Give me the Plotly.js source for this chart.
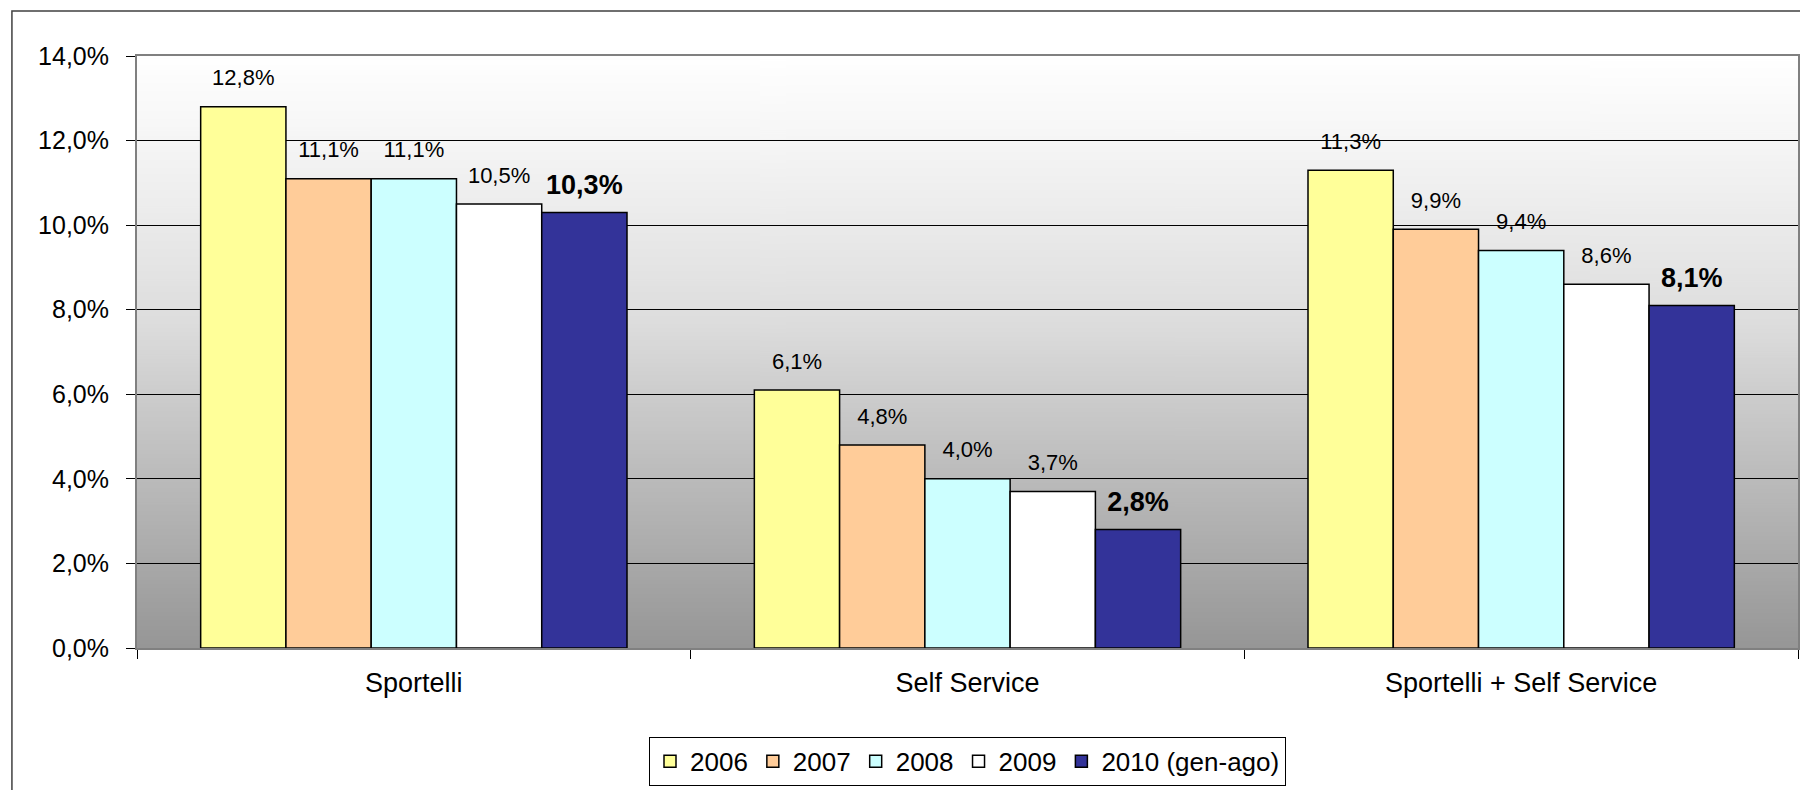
<!DOCTYPE html>
<html>
<head>
<meta charset="utf-8">
<script src="https://cdn.plot.ly/plotly-3.0.1.min.js"></script>
<style>
  html, body { margin: 0; padding: 0; background: #ffffff; }
  #chart { width: 1800px; height: 790px; }
</style>
</head>
<body>
<div id="chart"></div>
<script>
// Categories and yearly shares (percent)
const categories = ['Sportelli', 'Self Service', 'Sportelli + Self Service'];
const seriesNames = ['2006', '2007', '2008', '2009', '2010 (gen-ago)'];
const values2006 = [12.8, 6.1, 11.3];
const values2007 = [11.1, 4.8, 9.9];
const values2008 = [11.1, 4.0, 9.4];
const values2009 = [10.5, 3.7, 8.6];
const values2010 = [10.3, 2.8, 8.1];
const yTickValues = [0, 2, 4, 6, 8, 10, 12, 14];

const seriesValues = [values2006, values2007, values2008, values2009, values2010];
const seriesColors = ['#FFFF99', '#FFCC99', '#CCFFFF', '#FFFFFF', '#333399'];

const FONT = 'Liberation Sans, Arial, sans-serif';
const GAP = 0.23;

// Italian number style for labels: 12,8%
function pct(v) { return v.toFixed(1).replace('.', ',') + '%'; }

// Vertical grey gradient used as plot-area background
function gradientImage() {
  const c = document.createElement('canvas');
  c.width = 4; c.height = 600;
  const ctx = c.getContext('2d');
  const g = ctx.createLinearGradient(0, 0, 0, c.height);
  g.addColorStop(0.00, 'rgb(255,255,255)');
  g.addColorStop(0.15, 'rgb(245,245,245)');
  g.addColorStop(0.45, 'rgb(221,221,221)');
  g.addColorStop(0.60, 'rgb(201,201,201)');
  g.addColorStop(0.80, 'rgb(176,176,176)');
  g.addColorStop(1.00, 'rgb(150,150,150)');
  ctx.fillStyle = g;
  ctx.fillRect(0, 0, c.width, c.height);
  return c.toDataURL('image/png');
}

const traces = [];

// Bars
seriesValues.forEach((vals, i) => {
  traces.push({
    type: 'bar',
    name: seriesNames[i],
    x: categories,
    y: vals,
    marker: { color: seriesColors[i], line: { color: '#000000', width: 1.5 } },
    hoverinfo: 'skip'
  });
});

// Value labels above each bar (grouped the same way as the bars)
seriesValues.forEach((vals, i) => {
  const last = i === seriesValues.length - 1;
  traces.push({
    type: 'scatter',
    mode: 'markers+text',
    x: categories,
    y: vals,
    text: vals.map(pct),
    textposition: 'top center',
    textfont: { family: FONT, size: last ? 27 : 22, color: '#000000', weight: last ? 'bold' : 'normal' },
    marker: { size: last ? 17 : 24, opacity: 0 },
    showlegend: false,
    hoverinfo: 'skip'
  });
});

const layout = {
  width: 1800,
  height: 790,
  margin: { l: 137, r: 2, t: 56, b: 142, autoexpand: false },
  paper_bgcolor: '#ffffff',
  plot_bgcolor: 'rgba(0,0,0,0)',
  font: { family: FONT, color: '#000000' },
  barmode: 'group',
  bargap: GAP,
  bargroupgap: 0,
  scattermode: 'group',
  scattergap: GAP,
  hovermode: false,
  showlegend: true,
  xaxis: {
    type: 'category',
    tickson: 'boundaries',
    ticks: 'outside',
    ticklen: 9,
    tickcolor: '#000000',
    tickwidth: 1,
    showline: true,
    linecolor: '#808080',
    linewidth: 2,
    mirror: true,
    showgrid: false,
    tickfont: { family: FONT, size: 27, color: '#000000' },
    ticklabelstandoff: 10,
    fixedrange: true
  },
  yaxis: {
    range: [0, 14],
    tickmode: 'array',
    tickvals: yTickValues,
    ticktext: yTickValues.map(pct),
    ticks: 'outside',
    ticklen: 9,
    tickcolor: '#000000',
    tickwidth: 1,
    showline: true,
    linecolor: '#808080',
    linewidth: 2,
    mirror: true,
    showgrid: true,
    gridcolor: '#000000',
    gridwidth: 1,
    zeroline: false,
    tickfont: { family: FONT, size: 25, color: '#000000' },
    ticklabelstandoff: 12,
    automargin: false,
    fixedrange: true
  },
  legend: {
    orientation: 'h',
    x: 0.5,
    xanchor: 'center',
    y: -0.15,
    yanchor: 'top',
    bgcolor: '#ffffff',
    bordercolor: '#000000',
    borderwidth: 1,
    font: { family: FONT, size: 26, color: '#000000' },
    traceorder: 'normal'
  },
  images: [{
    source: gradientImage(),
    xref: 'paper', yref: 'paper',
    x: 0, y: 1, sizex: 1, sizey: 1,
    xanchor: 'left', yanchor: 'top',
    sizing: 'stretch',
    layer: 'below'
  }],
  shapes: [{
    // outer chart frame
    type: 'rect',
    xref: 'paper', yref: 'paper',
    x0: -0.0753, x1: 1.2, y0: -0.4, y1: 1.076,
    line: { color: '#404040', width: 1.5 },
    fillcolor: 'rgba(0,0,0,0)',
    layer: 'below'
  }]
};

Plotly.newPlot('chart', traces, layout, { displayModeBar: false, staticPlot: true });
</script>
</body>
</html>
